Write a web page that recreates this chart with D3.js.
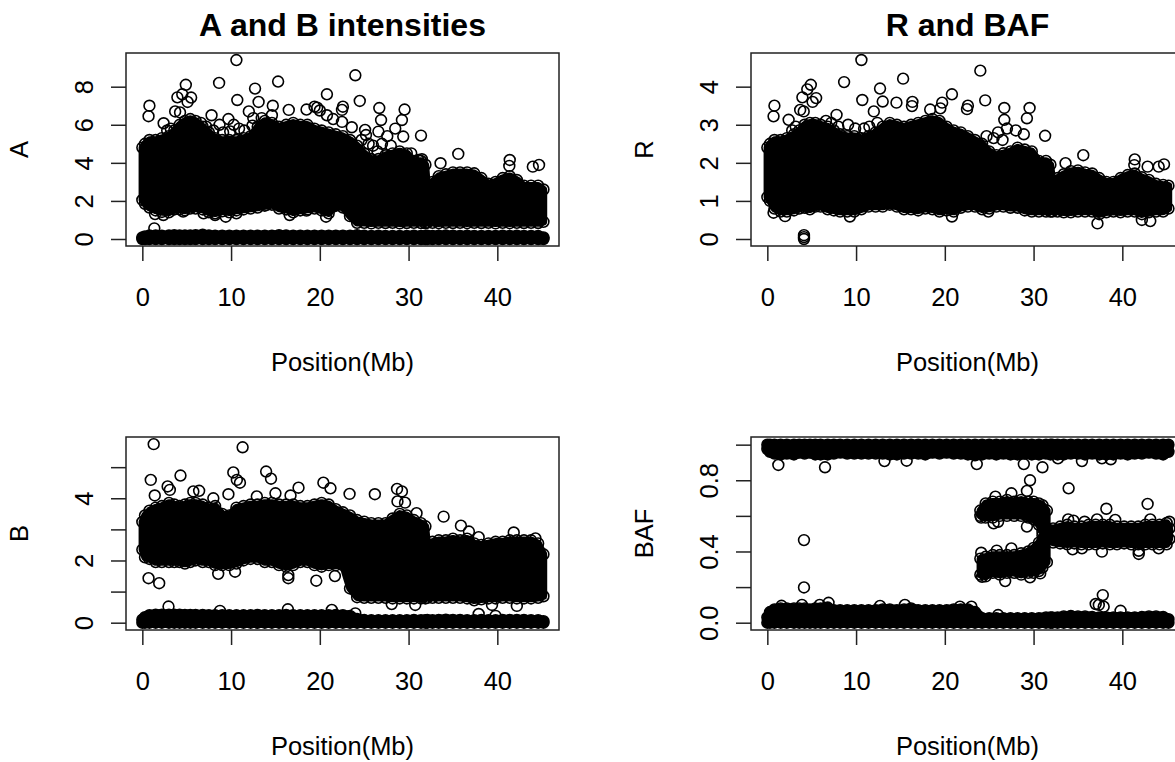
<html>
<head>
<title>A, B, R and BAF</title>
<script src="https://cdn.jsdelivr.net/npm/d3@7"></script>
<style>
body {margin:0; background:white;}
text {font-family:"Liberation Sans", Arial, sans-serif; fill:black;}
</style>
</head>
<body>
<svg id="chart" width="1175" height="762"></svg>
<script>
var posMb = [0.0,0.3,0.8,1.5,2.2,3.0,3.6,4.2,4.8,5.4,
	6.0,6.8,7.5,8.2,9.0,9.8,10.6,11.4,12.2,13.0,
	13.8,14.6,15.4,16.2,17.0,17.8,18.6,19.4,20.2,21.0,
	21.8,22.6,23.4,24.2,25.0,25.8,26.6,27.4,28.2,29.0,
	29.8,30.6,31.4,31.9,32.1,32.7,33.4,34.2,35.0,35.8,
	36.6,37.4,38.2,39.0,39.8,40.6,41.4,42.2,43.0,43.8,
	44.6,45.2];

var aTop = [4.8,5.0,5.2,5.2,5.3,5.4,5.7,6.0,6.2,6.3,
	6.2,5.9,5.6,5.3,5.2,5.2,5.2,5.3,5.4,5.9,
	6.2,6.1,5.9,6.0,6.1,6.0,6.0,5.8,5.7,5.6,
	5.5,5.4,5.2,4.9,4.5,4.2,4.2,4.4,4.5,4.6,
	4.5,4.1,4.1,3.9,2.7,3.0,3.3,3.4,3.5,3.5,
	3.5,3.45,3.2,2.9,3.0,3.2,3.3,3.1,2.8,2.8,
	2.8,2.6];
var aBottom = [2.05,1.85,1.65,1.5,1.42,1.4,1.55,1.55,1.5,1.6,
	1.6,1.55,1.4,1.35,1.45,1.4,1.5,1.55,1.6,1.65,
	1.75,1.8,1.6,1.55,1.4,1.5,1.55,1.6,1.5,1.35,
	1.75,1.65,1.2,0.85,0.85,0.82,0.85,0.84,0.85,0.82,
	0.84,0.85,0.84,0.82,0.86,0.85,0.83,0.85,0.84,0.85,
	0.83,0.85,0.84,0.85,0.82,0.85,0.83,0.85,0.84,0.85,
	0.84,0.9];
var aZeroTop = [0.08,0.14,0.18,0.18,0.17,0.18,0.2,0.18,0.18,0.18,
	0.2,0.22,0.18,0.17,0.17,0.17,0.17,0.17,0.17,0.17,
	0.17,0.17,0.2,0.18,0.17,0.17,0.17,0.17,0.17,0.17,
	0.17,0.17,0.17,0.2,0.17,0.16,0.17,0.16,0.16,0.16,
	0.16,0.17,0.16,0.16,0.17,0.16,0.17,0.18,0.17,0.16,
	0.17,0.16,0.16,0.16,0.16,0.17,0.16,0.17,0.16,0.16,
	0.16,0.08];

var rTop = [2.4,2.5,2.6,2.6,2.65,2.75,2.85,3.0,3.05,3.05,
	3.0,2.95,2.85,2.75,2.7,2.7,2.65,2.7,2.8,2.95,
	3.05,3.0,2.95,3.0,3.05,3.1,3.15,3.1,2.95,2.85,
	2.8,2.7,2.6,2.5,2.3,2.2,2.25,2.3,2.4,2.35,
	2.3,2.05,2.05,1.95,1.55,1.6,1.7,1.78,1.8,1.75,
	1.72,1.6,1.5,1.5,1.6,1.68,1.72,1.62,1.55,1.45,
	1.42,1.4];
var rBottom = [1.1,1.0,0.8,0.72,0.72,0.75,0.8,0.82,0.78,0.85,
	0.85,0.78,0.75,0.72,0.72,0.72,0.78,0.85,0.85,0.85,
	0.9,0.85,0.78,0.78,0.75,0.8,0.78,0.72,0.75,0.72,
	0.82,0.85,0.85,0.78,0.8,0.85,0.85,0.82,0.82,0.75,
	0.72,0.72,0.72,0.72,0.72,0.72,0.7,0.7,0.72,0.72,
	0.72,0.65,0.7,0.72,0.7,0.72,0.72,0.65,0.7,0.72,
	0.72,0.8];

var bTop = [3.24,3.45,3.6,3.7,3.75,3.85,3.8,3.75,3.8,3.85,
	3.85,3.8,3.7,3.75,3.5,3.45,3.7,3.75,3.8,3.8,
	3.85,3.85,3.8,3.8,3.8,3.75,3.75,3.8,3.85,3.8,
	3.65,3.55,3.45,3.3,3.25,3.2,3.2,3.2,3.35,3.5,
	3.45,3.3,3.2,3.1,2.5,2.6,2.65,2.65,2.7,2.65,
	2.7,2.55,2.5,2.55,2.6,2.6,2.65,2.65,2.65,2.65,
	2.55,2.2];
var bBottom = [2.35,2.1,2.05,1.95,1.95,1.95,1.95,1.95,1.9,1.95,
	2.0,1.95,1.95,1.85,1.85,1.85,1.9,2.0,2.05,2.05,
	1.95,1.95,1.85,1.8,1.85,1.95,1.95,1.85,1.8,1.85,
	1.85,1.85,1.1,0.82,0.8,0.8,0.8,0.8,0.78,0.78,
	0.78,0.78,0.78,0.78,0.8,0.8,0.8,0.8,0.8,0.8,
	0.78,0.72,0.75,0.78,0.78,0.8,0.8,0.78,0.78,0.78,
	0.8,0.85];
var bZeroTop = [0.1,0.18,0.24,0.26,0.26,0.26,0.26,0.26,0.25,0.25,
	0.25,0.25,0.24,0.24,0.24,0.24,0.24,0.24,0.24,0.25,
	0.24,0.24,0.24,0.25,0.24,0.24,0.24,0.24,0.24,0.24,
	0.25,0.24,0.22,0.12,0.09,0.08,0.08,0.08,0.08,0.08,
	0.08,0.09,0.08,0.08,0.09,0.08,0.09,0.1,0.09,0.09,
	0.08,0.08,0.09,0.08,0.08,0.09,0.09,0.09,0.09,0.08,
	0.08,0.05];

var bafHighBottom = [0.975,0.96,0.95,0.945,0.95,0.945,0.955,0.95,0.955,0.945,
	0.945,0.945,0.95,0.955,0.95,0.95,0.95,0.95,0.95,0.95,
	0.945,0.945,0.95,0.95,0.95,0.945,0.955,0.95,0.955,0.95,
	0.95,0.945,0.94,0.945,0.95,0.945,0.95,0.945,0.945,0.95,
	0.945,0.945,0.95,0.945,0.95,0.945,0.945,0.95,0.95,0.945,
	0.95,0.945,0.945,0.945,0.95,0.945,0.95,0.95,0.955,0.95,
	0.945,0.96];
var bafLowTop = [0.03,0.06,0.075,0.08,0.08,0.08,0.08,0.08,0.075,0.08,
	0.08,0.085,0.07,0.07,0.07,0.07,0.07,0.07,0.07,0.075,
	0.075,0.07,0.075,0.08,0.07,0.07,0.07,0.07,0.07,0.075,
	0.075,0.075,0.06,0.025,0.025,0.025,0.025,0.025,0.025,0.025,
	0.025,0.025,0.03,0.03,0.03,0.03,0.035,0.038,0.035,0.035,
	0.032,0.03,0.03,0.03,0.03,0.03,0.03,0.032,0.035,0.035,
	0.032,0.02];

// the two arms of the BAF fork and the single band to the right of it
var armMb = [24,24.6,25.4,26.2,27,27.8,28.6,29.4,30,30.6,31,31.5];
var armHighTop = [0.63,0.67,0.68,0.68,0.69,0.68,0.69,0.68,0.68,0.67,0.66,0.63];
var armHighBottom = [0.6,0.59,0.59,0.6,0.6,0.6,0.6,0.59,0.58,0.55,0.51,0.5];
var armLowTop = [0.36,0.37,0.38,0.38,0.38,0.38,0.39,0.4,0.42,0.45,0.49,0.5];
var armLowBottom = [0.27,0.26,0.28,0.27,0.28,0.28,0.27,0.28,0.28,0.29,0.31,0.34];
var midMb = [31.5,32.2,33,33.8,34.6,35.4,36.2,37,37.8,38.6,39.4,40.2,41,41.8,42.6,43.4,44.2,45,45.3];
var midTop = [0.53,0.53,0.54,0.55,0.54,0.54,0.55,0.55,0.55,0.55,0.54,0.54,0.54,0.54,0.55,0.55,0.55,0.56,0.53];
var midBottom = [0.47,0.45,0.445,0.44,0.445,0.44,0.44,0.44,0.445,0.44,0.44,0.445,0.44,0.44,0.44,0.44,0.44,0.44,0.47];

// single circles that stand clear of the solid clouds
var aPointMb = [10.6,24.0,8.65,15.3,4.9,12.7,20.8,3.95,4.5,5.5,5.1,10.7,13.1,24.5,0.8,0.7,3.7,4.25,14.7,16.5,
	18.5,19.7,19.4,20.0,22.6,22.5,26.7,29.55,12.0,7.8,26.9,29.25,2.4,9.7,8.7,10.3,12.5,13.45,14.6,20.8,
	21.5,22.5,23.6,25.1,25.2,26.6,27.6,28.5,29.4,31.4,35.6,33.6,41.4,41.35,44.0,44.7,31.1,31.5,
	1.35,1.43,2.37,4.6,6.9,8.2,9.4,10.6,14,16.6,18.5,20.7,21.5,
	8.0,9.1,9.9,10.9,11.5,12.4,6.6,7.2,3.2,2.8,26,27,28,26.5,25.5,30.3,24.7];
var aPointVal = [9.4,8.6,8.2,8.27,8.1,7.9,7.6,7.44,7.6,7.43,7.2,7.3,7.2,7.25,7.0,6.45,6.7,6.65,7.0,6.78,
	6.8,6.9,6.95,6.75,6.95,6.78,6.88,6.8,6.7,6.5,6.25,6.25,6.08,6.3,6.0,6.0,6.35,6.35,6.5,6.5,
	6.3,6.15,5.87,5.73,5.46,5.64,5.4,5.8,5.38,5.43,4.47,3.98,4.15,3.84,3.8,3.89,4.15,4.19,
	0.56,1.31,1.26,1.44,1.35,1.26,1.17,1.35,1.79,1.26,1.49,1.17,1.7,
	5.7,5.6,5.65,5.8,5.7,5.95,6.1,5.9,5.8,5.7,4.9,5.0,4.9,4.6,5.0,4.5,5.2];

var rPointMb = [10.6,24.0,8.65,15.3,4.9,4.5,12.7,20.8,3.95,5.5,5.1,10.7,13,24.55,0.8,0.7,3.7,4.1,14.55,16.35,
	16.3,18.35,19.7,19.5,22.6,22.5,26.7,29.55,12,7.8,26.7,29.25,2.4,31.3,35.6,33.6,41.4,41.35,42.85,44.1,
	44.7,37.2,42.2,43.15,20.8,9.3,0.7,2,24.9,4.13,4.13,4.13,
	8.0,9.1,9.9,10.9,11.5,12.4,6.6,7.2,3.2,2.8,26,27,28,26.5,25.5,28.9,24.7];
var rPointVal = [4.7,4.42,4.12,4.21,4.05,3.93,3.95,3.8,3.72,3.7,3.6,3.65,3.61,3.64,3.5,3.22,3.39,3.35,3.58,3.6,
	3.49,3.4,3.58,3.43,3.5,3.41,3.44,3.44,3.35,3.26,3.13,3.17,3.13,2.71,2.2,1.99,2.09,1.94,1.9,1.9,
	1.96,0.41,0.5,0.47,0.59,0.59,0.69,0.6,0.72,0.1,0.05,0.0,
	2.95,3.0,2.9,2.9,2.95,3.05,3.1,3.05,2.95,2.85,2.8,2.9,2.85,2.6,2.65,2.75,2.7];

var bPointMb = [1.28,11.3,4.3,0.95,10.25,10.65,11,13.95,14.5,20.4,21.2,17.6,2.85,3.1,1.4,5.75,6.4,8,9.7,12.9,
	15,16.7,23.35,26.2,28.7,29.25,28.75,29.6,30.9,33.95,35.9,36.8,41.85,37.9,44.3,0.7,1.9,2.95,8.55,10.45,
	16.45,16.45,19.6,21.7,8.75,16.4,21.35,24,37.9,39.8,42.2,30.75,28.1,39.4,24,22.85];
var bPointVal = [5.74,5.64,4.73,4.59,4.83,4.59,4.5,4.86,4.63,4.5,4.32,4.34,4.38,4.27,4.09,4.22,4.24,4.0,4.13,4.06,
	4.16,4.09,4.14,4.13,4.3,4.22,3.9,3.86,3.52,3.41,3.12,2.93,2.9,2.75,2.71,1.43,1.27,0.52,1.57,1.64,
	1.53,1.43,1.35,1.5,0.38,0.43,0.41,0.3,0.28,0.22,0.54,0.57,0.6,0.57,1.59,1.86];

var bafPointMb = [1.24,6.5,13.2,23.6,28.9,31,29.6,29.25,33.95,35.45,38.7,37.7,32.75,15.7,38.2,42.85,4.13,4.13,37.8,37,
	37.9,37.35,39.8,6.9,1.6,3.9,5.9,12.7,15.5,21.7,23,26,27.5,25.7,24.1,25.5,26,29.25,24.1,27.5,
	25.85,24.2,26.8,29.6,30.75,33.9,34.5,35.75,37.15,39.2,43.15,45.3,34.4,35.45,37.7,41.85,41.85,44.1];
var bafPointVal = [0.886,0.873,0.908,0.891,0.891,0.873,0.8,0.74,0.755,0.908,0.918,0.923,0.923,0.91,0.64,0.667,0.464,0.198,0.155,0.105,
	0.09,0.1,0.067,0.112,0.095,0.1,0.1,0.094,0.1,0.09,0.09,0.043,0.727,0.708,0.59,0.558,0.567,0.54,0.393,0.417,
	0.405,0.258,0.234,0.255,0.277,0.58,0.573,0.567,0.58,0.577,0.58,0.567,0.412,0.418,0.399,0.386,0.404,0.418];

var xTicks = [0,10,20,30,40];
var aTicks = [0,2,4,6,8];
var rTicks = [0,1,2,3,4];
var bTicks = [0,1,2,3,4,5];
var bafTicks = [0,0.2,0.4,0.6,0.8,1];

var svg = d3.select("#chart");

function edge_value(v,i) {
	return (typeof v == "number") ? v : v[i];
}

function draw_panel(p) {
	var x = d3.scaleLinear().domain([-1.84,46.95]).range([p.left,p.left+433]);
	var y = d3.scaleLinear().domain(p.yDomain).range([p.top+193,p.top]);
	var g = svg.append("g");

	// overplotted clouds: solid where the circles saturate, circles on the edge
	p.bands.forEach(function(b) {
		var rows = b.xs.map(function(d,i) {
			return {x:d, top:edge_value(b.top,i), bottom:edge_value(b.bottom,i)};
		});
		var area = d3.area().x(function(d) {return x(d.x);})
			.y0(function(d) {return y(d.bottom);})
			.y1(function(d) {return y(d.top);});
		g.append("path").datum(rows).attr("d",area)
			.style("fill","black").style("stroke","black").style("stroke-width",b.thin ? 10.5 : 7.5).style("stroke-linejoin","round");
		["top","bottom"].forEach(function(edge) {
			g.append("g").selectAll("circle").data(rows).enter().append("circle")
				.attr("cx",function(d) {return x(d.x);})
				.attr("cy",function(d) {return y(d[edge]);})
				.attr("r",5.4)
				.style("fill","none").style("stroke","black").style("stroke-width",1.6);
		});
	});

	g.append("g").selectAll("circle").data(p.pointX).enter().append("circle")
		.attr("cx",function(d) {return x(d);})
		.attr("cy",function(d,i) {return y(p.pointY[i]);})
		.attr("r",5.4)
		.style("fill","none").style("stroke","black").style("stroke-width",1.6);

	// box
	g.append("rect").attr("x",p.left).attr("y",p.top).attr("width",433).attr("height",193)
		.style("fill","none").style("stroke","#222").style("stroke-width",1.5);

	// axes
	var xAxis = g.append("g").attr("transform","translate(0 "+(p.top+193)+")")
		.call(d3.axisBottom(x).tickValues(xTicks).tickSize(15).tickFormat(d3.format("d")));
	xAxis.select(".domain").remove();
	xAxis.selectAll("line").style("stroke","#222").style("stroke-width",1.5);
	xAxis.selectAll("text").attr("y",60).attr("dy",0).style("font-size","25.5px");

	var yAxis = g.append("g").attr("transform","translate("+p.left+" 0)")
		.call(d3.axisLeft(y).tickValues(p.yTicks).tickSize(15).tickFormat(function(d) {
			return p.yLabels.indexOf(d) >= 0 ? p.yFormat(d) : "";
		}));
	yAxis.select(".domain").remove();
	yAxis.selectAll("line").style("stroke","#222").style("stroke-width",1.5);
	yAxis.selectAll("text")
		.attr("x",0).attr("y",0).attr("dy",0)
		.attr("text-anchor","middle")
		.attr("transform","translate(-33 0) rotate(-90)")
		.style("font-size","25.5px");

	g.append("text").attr("x",p.left+216.5).attr("y",p.top+318).attr("text-anchor","middle")
		.style("font-size","25.5px").text("Position(Mb)");
	g.append("text").attr("transform","translate("+(p.left-97.7)+" "+(p.top+96.5)+") rotate(-90)")
		.attr("text-anchor","middle").style("font-size","25.5px").text(p.label);
	if (p.title) {
		g.append("text").attr("x",p.left+216.5).attr("y",p.top-17).attr("text-anchor","middle")
			.style("font-size","32px").style("font-weight","bold").text(p.title);
	}
}

draw_panel({left:126, top:53, yDomain:[-0.368,9.77], yTicks:aTicks, yLabels:aTicks, yFormat:d3.format("d"),
	label:"A", title:"A and B intensities", pointX:aPointMb, pointY:aPointVal,
	bands:[{xs:posMb, top:aTop, bottom:aBottom},{xs:posMb, top:aZeroTop, bottom:0, thin:true}]});

draw_panel({left:751, top:53, yDomain:[-0.184,4.884], yTicks:rTicks, yLabels:rTicks, yFormat:d3.format("d"),
	label:"R", title:"R and BAF", pointX:rPointMb, pointY:rPointVal,
	bands:[{xs:posMb, top:rTop, bottom:rBottom}]});

draw_panel({left:126, top:437, yDomain:[-0.235,5.97], yTicks:bTicks, yLabels:[0,2,4], yFormat:d3.format("d"),
	label:"B", pointX:bPointMb, pointY:bPointVal,
	bands:[{xs:posMb, top:bTop, bottom:bBottom},{xs:posMb, top:bZeroTop, bottom:0, thin:true}]});

draw_panel({left:751, top:437, yDomain:[-0.041,1.043], yTicks:bafTicks, yLabels:[0,0.4,0.8], yFormat:d3.format(".1f"),
	label:"BAF", pointX:bafPointMb, pointY:bafPointVal,
	bands:[{xs:posMb, top:1, bottom:bafHighBottom, thin:true},{xs:posMb, top:bafLowTop, bottom:0, thin:true},
		{xs:armMb, top:armHighTop, bottom:armHighBottom},{xs:armMb, top:armLowTop, bottom:armLowBottom},
		{xs:midMb, top:midTop, bottom:midBottom}]});
</script>
</body>
</html>
